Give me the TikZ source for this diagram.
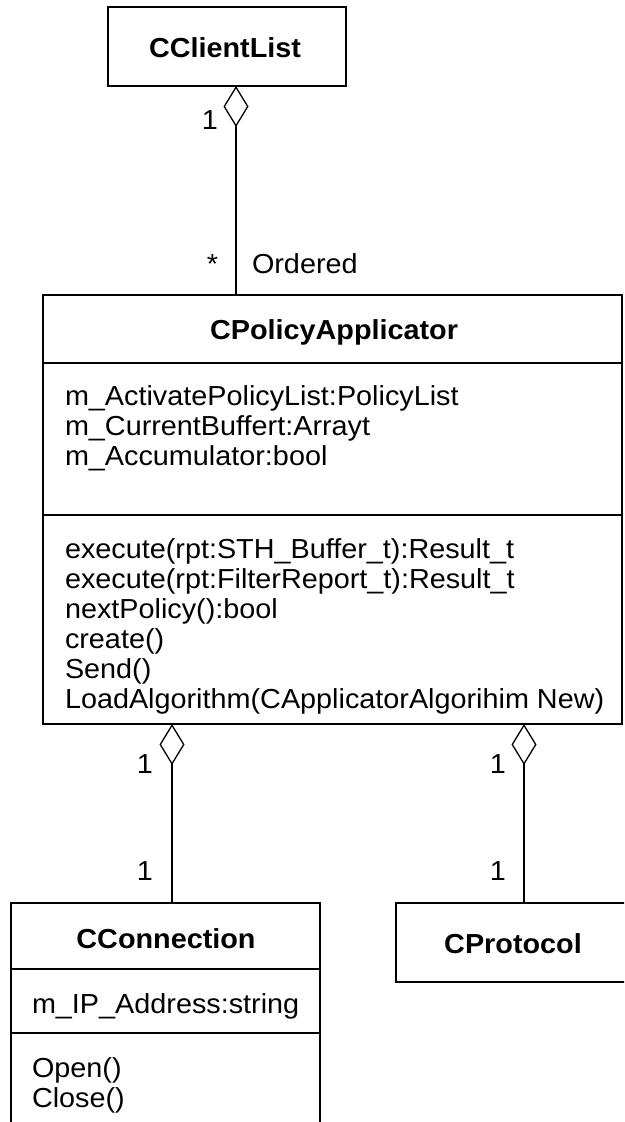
\documentclass[tikz,border=0pt]{standalone}
\usepackage{fontspec}
\setmainfont{Liberation Sans}[FakeStretch=1.047]
\usetikzlibrary{arrows.meta}
\begin{document}
\begin{tikzpicture}[x=1pt,y=-1pt,
  box/.style={draw, line width=1.3pt, rectangle, inner sep=0pt, outer sep=0pt},
  txt/.style={inner sep=0pt, outer sep=0pt, anchor=base west, font=\fontsize{27.5}{30}\selectfont},
  ttl/.style={inner sep=0pt, outer sep=0pt, anchor=base, font=\fontsize{27.5}{30}\selectfont\bfseries},
  lbl/.style={inner sep=0pt, outer sep=0pt, anchor=base east, font=\fontsize{27.5}{30}\selectfont},
  agg/.style={line width=1.3pt, -{Diamond[open, length=41pt, width=25pt, line width=1.3pt]}}
]
\useasboundingbox (0,0) rectangle (624,1122);
\fill[white] (0,0) rectangle (624,1122);
\clip (0,0) rectangle (624,1122);

% CClientList
\node[box, minimum width=238pt, minimum height=79pt] (ccl) at (227,46.5) {};
\node[ttl] (ccltitle) at (225,57) {CClientList};

% CPolicyApplicator
\node[box, minimum width=579pt, minimum height=68pt] (cpa) at (332.5,329) {};
\node[box, minimum width=579pt, minimum height=152pt] (cpaattr) at (332.5,439) {};
\node[box, minimum width=579pt, minimum height=209pt] (cpaops) at (332.5,619.5) {};
\node[ttl] (cpatitle) at (334,339) {CPolicyApplicator};
\foreach \t [count=\i] in {m\_ActivatePolicyList:PolicyList, m\_CurrentBuffert:Arrayt, m\_Accumulator:bool}
  \node[txt] (attr\i) at (65,375+30*\i) {\t};
\foreach \t [count=\i] in {execute(rpt:STH\_Buffer\_t):Result\_t, execute(rpt:FilterReport\_t):Result\_t, nextPolicy():bool, create(), Send(), LoadAlgorithm(CApplicatorAlgorihim New)}
  \node[txt] (op\i) at (65,528+30*\i) {\t};

% CConnection
\node[box, minimum width=309pt, minimum height=66pt] (ccon) at (165.5,936) {};
\node[box, minimum width=309pt, minimum height=64pt] (cconattr) at (165.5,1001) {};
\node[box, minimum width=309pt, minimum height=127pt] (cconops) at (165.5,1096.5) {};
\node[ttl] (ccontitle) at (166,948) {CConnection};
\node[txt] (cconip) at (32,1013) {m\_IP\_Address:string};
\node[txt] (cconopen) at (32,1077) {Open()};
\node[txt] (cconclose) at (32,1107) {Close()};

% CProtocol
\node[box, minimum width=234pt, minimum height=79pt] (cpro) at (513,942.5) {};
\node[ttl] (cprotitle) at (513,953) {CProtocol};

% connectors
\coordinate (xa) at (236,0);
\coordinate (xb) at (172,0);
\coordinate (xc) at (524,0);
\draw[agg] (cpa.north -| xa) -- (ccl.south -| xa);
\draw[agg] (ccon.north -| xb) -- (cpaops.south -| xb);
\draw[agg] (cpro.north -| xc) -- (cpaops.south -| xc);

% multiplicities
\node[lbl] (m1) at (218,129) {1};
\node[lbl] (m2) at (218,273) {*};
\node[txt] (ord) at (252,273) {Ordered};
\node[lbl] (m3) at (153,773) {1};
\node[lbl] (m4) at (506,773) {1};
\node[lbl] (m5) at (153,880) {1};
\node[lbl] (m6) at (506,880) {1};
\end{tikzpicture}
\end{document}
